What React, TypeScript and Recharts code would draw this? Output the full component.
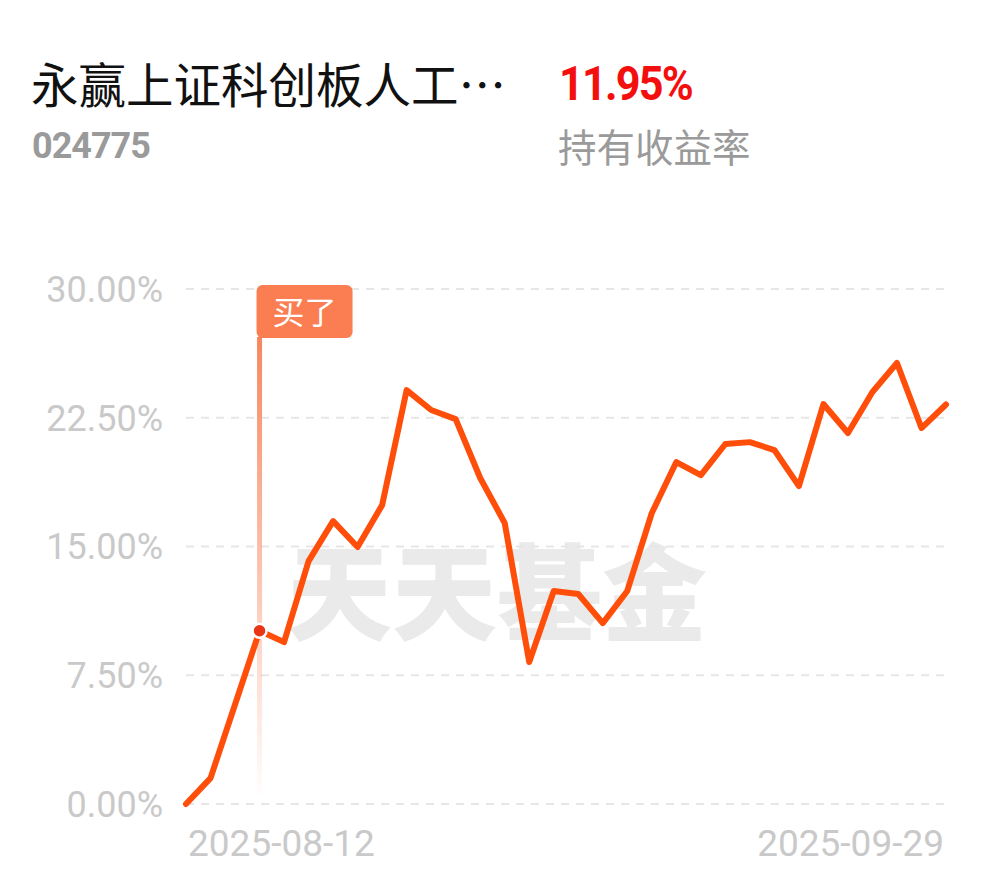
import { LineChart, Line, XAxis, YAxis, CartesianGrid, ReferenceLine, ReferenceDot } from 'recharts';

const dates = [
  '2025-08-12', '2025-08-13', '2025-08-14', '2025-08-15', '2025-08-18', '2025-08-19', '2025-08-20', '2025-08-21',
  '2025-08-22', '2025-08-25', '2025-08-26', '2025-08-27', '2025-08-28', '2025-08-29', '2025-09-01', '2025-09-02',
  '2025-09-03', '2025-09-04', '2025-09-05', '2025-09-08', '2025-09-09', '2025-09-10', '2025-09-11', '2025-09-12',
  '2025-09-15', '2025-09-16', '2025-09-17', '2025-09-18', '2025-09-19', '2025-09-22', '2025-09-25', '2025-09-29',
];

const returns = [
  0, 1.51, 5.8, 10.09, 9.43, 14.15, 16.48, 14.97,
  17.41, 24.11, 22.95, 22.42, 18.99, 16.37, 8.27, 12.41,
  12.23, 10.54, 12.41, 16.95, 19.92, 19.16, 20.97, 21.08,
  20.62, 18.52, 23.3, 21.61, 24.0, 25.69, 21.9, 23.27,
];

const yTicks = [0, 7.5, 15, 22.5, 30];

const buyIndex = 3;
const buyLabel = '买了';

const data = dates.map((d, i) => ({ date: d, value: returns[i] }));

const tickColor = '#c9c9c9';

const XTick = (props: any) => {
  const { x, y, payload } = props;
  const first = payload.value === dates[0];
  return (
    <text x={x + (first ? 2 : -2)} y={y + 44} textAnchor={first ? 'start' : 'end'} fill={tickColor} fontSize={37} fontFamily="Roboto, sans-serif">
      {payload.value}
    </text>
  );
};

const BuyDot = (props: any) => {
  const { cx, cy, index } = props;
  if (index !== buyIndex) return <g key={index} />;
  return <circle key={index} cx={cx} cy={cy} r={7} fill="#ea3516" stroke="#ffffff" strokeWidth={2.5} />;
};

const BuyFlag = (props: any) => {
  const { cx, cy } = props;
  return (
    <g>
      <rect x={cx - 3} y={cy - 4} width={96} height={53} rx={6} fill="#fb7d52" />
      <text x={cx + 45} y={cy + 35} textAnchor="middle" fill="#ffffff" fontSize={32} fontFamily="'Noto Sans CJK SC', sans-serif">
        {buyLabel}
      </text>
    </g>
  );
};

export default function App() {
  return (
    <div style={{ position: 'absolute', left: 0, top: 0, width: 990, height: 878, background: '#ffffff', overflow: 'hidden' }}>
      {/* header */}
      <div style={{ position: 'absolute', left: 31, top: 53, fontSize: 47.5, color: '#111', fontFamily: "'Noto Sans CJK SC', sans-serif", lineHeight: '60px', whiteSpace: 'nowrap' }}>
        永赢上证科创板人工…
      </div>
      <div style={{ position: 'absolute', left: 32, top: 124, fontSize: 36, color: '#9a9a9a', fontWeight: 700, fontFamily: 'Roboto, sans-serif', lineHeight: '44px', letterSpacing: -1 }}>
        024775
      </div>
      <div style={{ position: 'absolute', left: 559, top: 54, fontSize: 48, color: '#f40f0f', fontWeight: 700, fontFamily: 'Roboto, sans-serif', lineHeight: '60px', letterSpacing: -2, transform: 'scaleX(0.9)', transformOrigin: 'left center' }}>
        11.95%
      </div>
      <div style={{ position: 'absolute', left: 558, top: 121, fontSize: 38.5, color: '#9a9a9a', fontFamily: "'Noto Sans CJK SC', sans-serif", lineHeight: '48px', whiteSpace: 'nowrap' }}>
        持有收益率
      </div>

      {/* watermark */}
      <div style={{ position: 'absolute', left: 287, top: 524, fontSize: 105, color: '#eaeaea', fontWeight: 900, fontFamily: "'Noto Sans CJK SC', serif", lineHeight: '124px', whiteSpace: 'nowrap' }}>
        天天基金
      </div>

      <div style={{ position: 'absolute', left: 0, top: 0 }}>
        <LineChart width={990} height={878} data={data} margin={{ top: 289, right: 44, bottom: 24, left: 0 }}>
          <defs>
            <linearGradient id="buyGrad" gradientUnits="userSpaceOnUse" x1="0" y1="338" x2="0" y2="800">
              <stop offset="0%" stopColor="#f7875f" stopOpacity={1} />
              <stop offset="100%" stopColor="#f7875f" stopOpacity={0} />
            </linearGradient>
          </defs>
          <CartesianGrid vertical={false} stroke="#e6e6e6" strokeWidth={2} strokeDasharray="8 7" />
          <XAxis
            dataKey="date"
            height={50}
            axisLine={false}
            tickLine={false}
            interval={dates.length - 2}
            tick={<XTick />}
          />
          <YAxis
            width={186}
            domain={[0, 30]}
            ticks={yTicks}
            axisLine={false}
            tickLine={false}
            tickSize={0}
            tickMargin={23}
            tickFormatter={(v: number) => `${v.toFixed(2)}%`}
            tick={{ fill: tickColor, fontSize: 36, fontFamily: 'Roboto, sans-serif' }}
          />
          <ReferenceLine
            segment={[{ x: dates[buyIndex], y: 0.5 }, { x: dates[buyIndex], y: 27.2 }]}
            stroke="url(#buyGrad)"
            strokeWidth={5}
          />
          <ReferenceDot x={dates[buyIndex]} y={30} r={1} shape={<BuyFlag />} />
          <Line
            type="linear"
            dataKey="value"
            stroke="#ff4d0a"
            strokeWidth={6}
            strokeLinejoin="round"
            strokeLinecap="round"
            dot={<BuyDot />}
            activeDot={false}
            isAnimationActive={false}
          />
        </LineChart>
      </div>
    </div>
  );
}
